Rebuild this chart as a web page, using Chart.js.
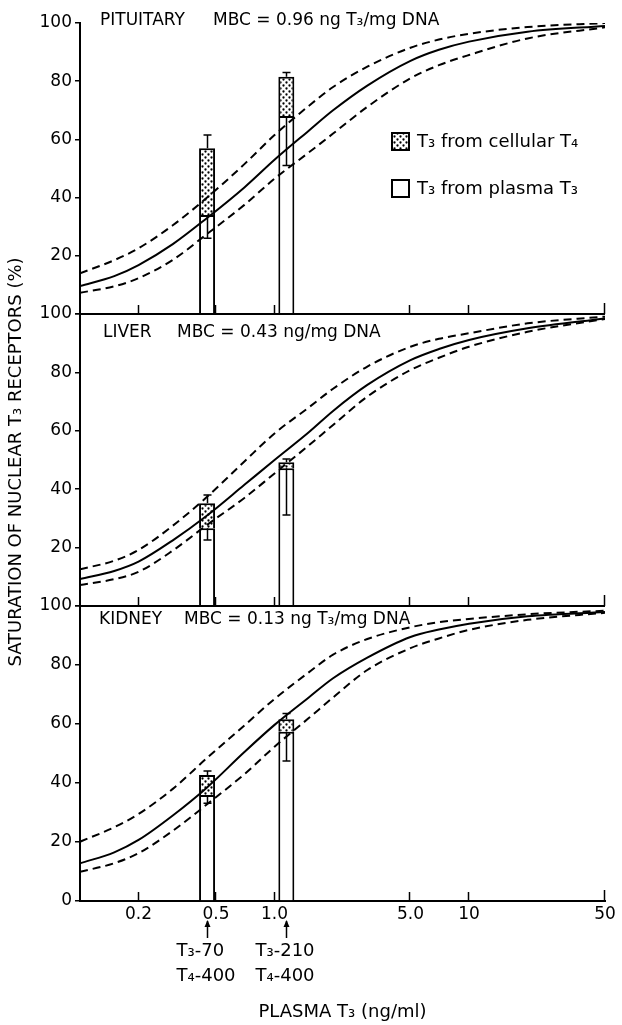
<!DOCTYPE html>
<html><head><meta charset="utf-8">
<script src="https://cdn.jsdelivr.net/npm/chart.js@4.4.1/dist/chart.umd.min.js"></script>
<style>html,body{margin:0;padding:0;background:#fff;}canvas{display:block;}</style>
</head><body>
<canvas id="c" width="622" height="1025"></canvas>
<script>
// ---------- data ----------
const curveX = [0.1, 0.15, 0.2, 0.3, 0.45, 0.7, 1, 1.5, 2, 3, 5, 7, 10, 20, 50];

const pituitarySolid = [9.6, 13, 16.8, 24, 33, 43.5, 53, 63, 70, 78.5, 87, 90.8, 93.6, 97, 99];
const pituitaryUpper = [14, 18.5, 22.6, 30.5, 40, 51.5, 61.5, 71.5, 78, 85, 91.5, 94.3, 96.3, 98.6, 100];
const pituitaryLower = [7.3, 9.5, 12.3, 18.6, 27.5, 37.5, 46.5, 55.5, 62, 71.2, 81, 85.5, 89, 94.7, 98.5];

const liverSolid = [9.2, 12, 15.2, 22.5, 31, 41.5, 50, 59.5, 66.8, 75.7, 84.2, 88, 91.1, 95.1, 98.5];
const liverUpper = [12.6, 15.5, 19.2, 27.5, 37.4, 49.5, 59.1, 68, 74.4, 82, 88.8, 91.5, 93.4, 96.8, 99.1];
const liverLower = [7.2, 9.2, 11.7, 19, 27.8, 37, 45.4, 55, 62, 71.7, 80.8, 85, 88.8, 93.9, 98.3];

const kidneySolid = [12.8, 16.5, 20.7, 29, 38.5, 50.5, 59.7, 69, 75.5, 82.5, 89.5, 92, 94, 96.5, 98];
const kidneyUpper = [20.1, 25, 29.5, 38, 48.5, 59.5, 68.5, 77.5, 83.5, 88.8, 92.8, 94.5, 95.6, 97.2, 98.4];
const kidneyLower = [9.9, 12.8, 16.2, 23.8, 32.8, 43, 52.3, 62, 69, 78.3, 85.7, 89, 91.9, 95.3, 97.7];

const barX = [0.45, 1.15];
const pituitaryPlasma = [34, 68];
const pituitaryCellular = [23, 13.5];
const pituitaryErrHigh = [61.5, 83];
const pituitaryErrLow = [26, 51];

const liverPlasma = [26.6, 47.2];
const liverCellular = [8.6, 2];
const liverErrHigh = [38, 50.3];
const liverErrLow = [22.6, 31.2];

const kidneyPlasma = [35.9, 57.4];
const kidneyCellular = [6.8, 4.2];
const kidneyErrHigh = [44.1, 63.6];
const kidneyErrLow = [33.1, 47.5];

const xTickValues = [0.2, 0.5, 1, 5, 10, 50];
const xTickLabels = ['0.2', '0.5', '1.0', '5.0', '10', '50'];
const yTickValues = [0, 20, 40, 60, 80, 100];

const panelNames = ['PITUITARY', 'LIVER', 'KIDNEY'];
const panelMBC = ['MBC = 0.96 ng T\u2083/mg DNA', 'MBC = 0.43 ng/mg DNA', 'MBC = 0.13 ng T\u2083/mg DNA'];
const legendLabels = ['T\u2083 from cellular T\u2084', 'T\u2083 from plasma T\u2083'];
const doseLabels = [['T\u2083-70', 'T\u2084-400'], ['T\u2083-210', 'T\u2084-400']];
const yTitle = 'SATURATION OF NUCLEAR T\u2083 RECEPTORS (%)';
const xTitle = 'PLASMA T\u2083 (ng/ml)';

// ---------- layout / style ----------
const FONT = "'DejaVu Sans', sans-serif";
Chart.defaults.font.family = FONT;
Chart.defaults.color = '#000';

const panelHeights = [291, 292, 295];
const labelLayout = [ // name x-offset, mbc x-offset, y-offset from panel top
  {nx: 20, mx: 133, dy: -2},
  {nx: 23, mx: 97, dy: 19},
  {nx: 19, mx: 104, dy: 14}
];

const canvas = document.getElementById('c');
const ctx0 = canvas.getContext('2d');
function makeStipple() {
  const t = document.createElement('canvas');
  t.width = 6; t.height = 6;
  const g = t.getContext('2d');
  g.fillStyle = '#fff'; g.fillRect(0, 0, 6, 6);
  g.fillStyle = '#000';
  [[1.5, 1.5], [4.5, 4.5]].forEach(([a, b]) => { g.beginPath(); g.arc(a, b, 1.15, 0, Math.PI * 2); g.fill(); });
  return ctx0.createPattern(t, 'repeat');
}
const stipple = makeStipple();

const panels = [
  {id: 'yP', solid: pituitarySolid, upper: pituitaryUpper, lower: pituitaryLower,
   plasma: pituitaryPlasma, cellular: pituitaryCellular, hi: pituitaryErrHigh, lo: pituitaryErrLow},
  {id: 'yL', solid: liverSolid, upper: liverUpper, lower: liverLower,
   plasma: liverPlasma, cellular: liverCellular, hi: liverErrHigh, lo: liverErrLow},
  {id: 'yK', solid: kidneySolid, upper: kidneyUpper, lower: kidneyLower,
   plasma: kidneyPlasma, cellular: kidneyCellular, hi: kidneyErrHigh, lo: kidneyErrLow}
];

const datasets = [];
panels.forEach((p) => {
  const lineBase = {type: 'line', yAxisID: p.id, borderColor: '#000', pointRadius: 0,
    cubicInterpolationMode: 'monotone', fill: false, order: 0};
  datasets.push(Object.assign({}, lineBase, {data: curveX.map((x, i) => ({x, y: p.solid[i]})), borderWidth: 2}));
  datasets.push(Object.assign({}, lineBase, {data: curveX.map((x, i) => ({x, y: p.upper[i]})), borderWidth: 2, borderDash: [8, 5]}));
  datasets.push(Object.assign({}, lineBase, {data: curveX.map((x, i) => ({x, y: p.lower[i]})), borderWidth: 2, borderDash: [8, 5]}));
  const barBase = {type: 'bar', yAxisID: p.id, stack: 's' + p.id, grouped: false, maxBarThickness: 16,
    borderColor: '#000', borderWidth: 2, order: 1};
  datasets.push(Object.assign({}, barBase, {label: legendLabels[1], data: barX.map((x, i) => ({x, y: p.plasma[i]})), backgroundColor: '#fff'}));
  datasets.push(Object.assign({}, barBase, {label: legendLabels[0], data: barX.map((x, i) => ({x, y: p.cellular[i]})), backgroundColor: stipple}));
});

function panelScale(idx) {
  return {
    type: 'linear', position: 'left', stack: 'panels', stackWeight: panelHeights[idx], weight: 3 - idx,
    min: 0, max: 100,
    afterBuildTicks: s => { s.ticks = yTickValues.map(v => ({value: v})); },
    afterFit: s => { s.width = 48.4; },
    ticks: {font: {size: 17}, color: '#000', padding: 3,
      callback: (v) => (v === 0 && idx < 2) ? '' : String(v)},
    grid: {drawOnChartArea: false, drawTicks: true, tickLength: 5, color: '#000', lineWidth: 1.5},
    border: {display: true, color: '#000', width: 2}
  };
}

const extras = {
  id: 'extras',
  afterDatasetsDraw(chart) {
    const ctx = chart.ctx, xs = chart.scales.x;
    ctx.save();
    ctx.strokeStyle = '#000'; ctx.lineWidth = 1.5;
    panels.forEach(p => {
      const ys = chart.scales[p.id];
      barX.forEach((bx, i) => {
        const px = Math.round(xs.getPixelForValue(bx)) + 0.5;
        const topV = p.plasma[i] + p.cellular[i];
        const segs = [[topV, p.hi[i]], [p.plasma[i], p.lo[i]]];
        segs.forEach(([a, b]) => {
          const ya = ys.getPixelForValue(a), yb = ys.getPixelForValue(b);
          ctx.beginPath(); ctx.moveTo(px, ya); ctx.lineTo(px, yb);
          ctx.moveTo(px - 4, yb); ctx.lineTo(px + 4, yb); ctx.stroke();
        });
      });
    });
    ctx.restore();
  },
  afterDraw(chart) {
    const ctx = chart.ctx, xs = chart.scales.x, area = chart.chartArea;
    ctx.save();
    ctx.strokeStyle = '#000'; ctx.fillStyle = '#000';
    panels.forEach((p, k) => {
      const ys = chart.scales[p.id];
      if (k > 0) {
        const yt = ys.getPixelForValue(100);
        ctx.lineWidth = 2; ctx.beginPath(); ctx.moveTo(area.left, yt); ctx.lineTo(area.right, yt); ctx.stroke();
      }
      const y0 = ys.getPixelForValue(0);
      ctx.lineWidth = 1.5;
      xTickValues.forEach(v => {
        const px = Math.round(xs.getPixelForValue(v)) - 0.5;
        ctx.beginPath(); ctx.moveTo(px, y0); ctx.lineTo(px, y0 - (v === 50 ? 11 : 9)); ctx.stroke();
      });
      const L = labelLayout[k];
      ctx.font = '17px ' + FONT; ctx.textBaseline = 'middle'; ctx.textAlign = 'left';
      ctx.fillText(panelNames[k], area.left + L.nx, ys.top + L.dy);
      ctx.fillText(panelMBC[k], area.left + L.mx, ys.top + L.dy);
    });
    const yp = chart.scales.yP;
    const boxes = [{fill: stipple, top: yp.top + 110}, {fill: '#fff', top: yp.top + 157}];
    ctx.font = '18px ' + FONT; ctx.textBaseline = 'middle'; ctx.textAlign = 'left';
    boxes.forEach((b, i) => {
      const bl = area.left + 312;
      ctx.fillStyle = b.fill; ctx.fillRect(bl, b.top, 17, 17);
      ctx.lineWidth = 2; ctx.strokeRect(bl, b.top, 17, 17);
      ctx.fillStyle = '#000';
      ctx.fillText(legendLabels[i], bl + 25, b.top + 9);
    });
    ctx.font = '18px ' + FONT;
    barX.forEach((bx, i) => {
      const px = Math.round(xs.getPixelForValue(bx)) + 0.5;
      const yb = area.bottom;
      ctx.lineWidth = 1.5;
      ctx.beginPath(); ctx.moveTo(px, yb + 37); ctx.lineTo(px, yb + 20); ctx.stroke();
      ctx.beginPath(); ctx.moveTo(px - 3, yb + 26); ctx.lineTo(px, yb + 19); ctx.lineTo(px + 3, yb + 26); ctx.closePath(); ctx.fill();
      ctx.fillText(doseLabels[i][0], px - 31, yb + 50);
      ctx.fillText(doseLabels[i][1], px - 31, yb + 75);
    });
    ctx.restore();
  }
};

new Chart(canvas, {
  type: 'bar',
  data: {datasets},
  options: {
    responsive: false, animation: false, devicePixelRatio: 1,
    layout: {padding: {left: 0, right: 17, top: 23, bottom: 0}},
    plugins: {
      legend: {display: false},
      tooltip: {enabled: false},
      title: {display: true, position: 'left', fullSize: false, text: yTitle,
        font: {size: 18, weight: 'normal'}, color: '#000', padding: {top: 6, bottom: 4}}
    },
    scales: {
      x: {
        type: 'logarithmic', position: 'bottom', min: 0.1, max: 50,
        afterBuildTicks: s => { s.ticks = xTickValues.map(v => ({value: v})); },
        afterFit: s => { s.height = 124; },
        ticks: {autoSkip: false, maxRotation: 0, minRotation: 0, padding: 3, font: {size: 17}, color: '#000',
          callback: (v, i) => xTickLabels[i]},
        grid: {display: false, drawTicks: false},
        border: {display: true, color: '#000', width: 2},
        title: {display: true, text: xTitle, font: {size: 18}, color: '#000', padding: {top: 4, bottom: 2}}
      },
      yK: panelScale(2),
      yL: panelScale(1),
      yP: panelScale(0)
    }
  },
  plugins: [extras]
});
</script>
</body></html>
